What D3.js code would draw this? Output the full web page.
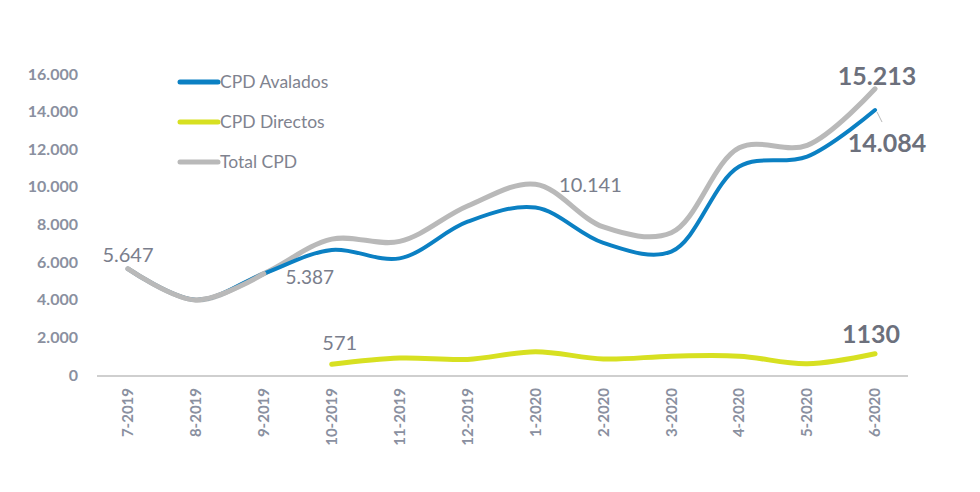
<!DOCTYPE html>
<html><head><meta charset="utf-8">
<script src="https://cdn.jsdelivr.net/npm/d3@7"></script>
<style>body{margin:0;background:#fff}svg{display:block}</style>
</head><body>
<svg id="c" width="980" height="492"></svg>
<script>
const categories = ["7-2019","8-2019","9-2019","10-2019","11-2019","12-2019","1-2020","2-2020","3-2020","4-2020","5-2020","6-2020"];
const avalados = [5647, 3990, 5387, 6650, 6200, 8150, 8900, 7020, 6560, 11080, 11610, 14084];
const directos = [null, null, null, 571, 900, 830, 1240, 850, 1000, 1000, 600, 1130];
const total = [5647, 3990, 5387, 7221, 7100, 8980, 10141, 7870, 7560, 12080, 12210, 15213];
const yTicks = [0, 2000, 4000, 6000, 8000, 10000, 12000, 14000, 16000];
const seriesNames = ["CPD Avalados", "CPD Directos", "Total CPD"];
const colors = ["#0b80c3", "#d7e021", "#b9b9b9"];

const svg = d3.select("#c");
const x = d3.scaleBand().domain(categories).range([94, 909]);
const y = d3.scaleLinear().domain([0, 16000]).range([375, 74]);
const cx = c => x(c) + x.bandwidth() / 2;
const fmt = v => d3.format(",")(v).replace(/,/g, ".");
const labelColor = "#7a7e8c";
const font = "Lato, 'Open Sans', sans-serif";

// y tick labels
svg.append("g").selectAll("text").data(yTicks).join("text")
  .attr("x", 78).attr("y", d => y(d)).attr("dy", "0.35em")
  .attr("text-anchor", "end").attr("font-family", font).attr("font-weight", "bold")
  .attr("font-size", 16).attr("fill", "#8a90a0")
  .text(d => d === 0 ? "0" : fmt(d));

// x axis line
svg.append("line").attr("x1", 97).attr("x2", 908).attr("y1", 376).attr("y2", 376)
  .attr("stroke", "#cfcfcf").attr("stroke-width", 2);

// x labels
svg.append("g").selectAll("text").data(categories).join("text")
  .attr("transform", d => `translate(${cx(d)},388) rotate(-90)`)
  .attr("dy", "0.35em").attr("text-anchor", "end")
  .attr("font-family", font).attr("font-weight", "bold").attr("font-size", 15)
  .attr("fill", "#8a90a0").text(d => d);

// lines
const line = d3.line().defined(d => d.v != null).x(d => cx(d.c)).y(d => y(d.v))
  .curve(d3.curveCatmullRom.alpha(0.5));
const mk = arr => categories.map((c, i) => ({c, v: arr[i]}));
svg.append("path").datum(mk(total)).attr("d", line).attr("fill", "none")
  .attr("stroke", colors[2]).attr("stroke-width", 5).attr("stroke-linecap", "round");
svg.append("path").datum(mk(avalados)).attr("d", line).attr("fill", "none")
  .attr("stroke", colors[0]).attr("stroke-width", 4).attr("stroke-linecap", "round");
svg.append("path").datum(mk(total).slice(0, 3)).attr("d", line).attr("fill", "none")
  .attr("stroke", colors[2]).attr("stroke-width", 5).attr("stroke-linecap", "round");
svg.append("path").datum(mk(directos)).attr("d", line).attr("fill", "none")
  .attr("stroke", colors[1]).attr("stroke-width", 5).attr("stroke-linecap", "round");

// data labels
const lab = (t, xx, yy, size, bold) => svg.append("text").attr("x", xx).attr("y", yy)
  .attr("text-anchor", "middle").attr("dy", "0.35em").attr("font-family", font)
  .attr("font-size", size).attr("font-weight", bold ? "bold" : "normal")
  .attr("fill", bold ? "#6c707c" : labelColor).text(t);
lab(fmt(total[0]), cx(categories[0]), y(total[0]) - 14, 20);
lab(fmt(avalados[2]), cx(categories[2]) + 46, y(avalados[2]) + 4, 19);
lab(fmt(total[6]), cx(categories[6]) + 55, y(total[6]) + 1, 20);
lab(String(directos[3]), cx(categories[3]) + 8, y(directos[3]) - 21, 20);
lab(fmt(total[11]), cx(categories[11]) + 2, y(total[11]) - 13, 25, true);
lab(fmt(avalados[11]), cx(categories[11]) + 12, y(avalados[11]) + 33, 25, true);
lab(String(directos[11]), cx(categories[11]) - 4, y(directos[11]) - 19, 25, true);
svg.append("line").attr("x1", cx(categories[11]) + 2).attr("y1", y(avalados[11]) + 2)
  .attr("x2", cx(categories[11]) + 7).attr("y2", y(avalados[11]) + 12)
  .attr("stroke", "#b9b9b9").attr("stroke-width", 1);

// legend
const lg = svg.append("g").selectAll("g").data(seriesNames).join("g")
  .attr("transform", (d, i) => `translate(178,${82 + i * 40})`);
lg.append("line").attr("x1", 2).attr("x2", 40).attr("stroke", (d, i) => colors[i])
  .attr("stroke-width", 5).attr("stroke-linecap", "round");
lg.append("text").attr("x", 42).attr("dy", "0.35em").attr("font-family", font)
  .attr("font-size", 17.5).attr("fill", "#7f838f").text(d => d);
</script>
</body></html>
